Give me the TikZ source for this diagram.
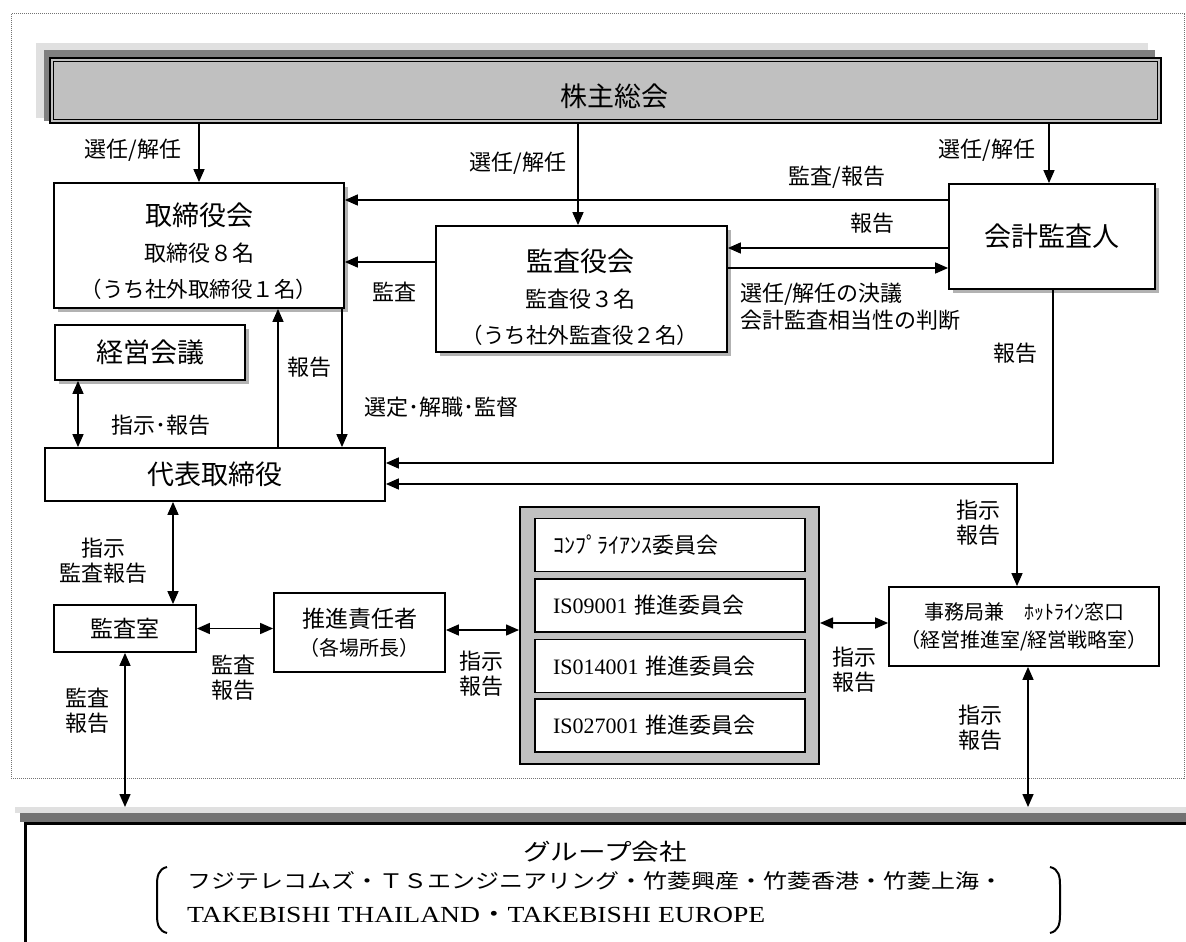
\documentclass[tikz,border=0pt]{standalone}
\usepackage{fontspec}
\usepackage{graphicx}
\setmainfont{Liberation Serif}
\newfontfamily\jp{Noto Sans CJK JP}
\usetikzlibrary{arrows.meta,shadows}
\definecolor{bargray}{HTML}{C0C0C0}
\newcommand\szT{\fontsize{27}{32}\selectfont}
\begin{document}
\begin{tikzpicture}[x=1pt,y=-1pt,
  box/.style={draw,line width=1.8pt,fill=white,inner sep=0pt,align=center},
  shbox/.style={box,drop shadow={shadow xshift=3.5pt,shadow yshift=-3.5pt,fill=black!30,opacity=1}},
  cbox/.style={draw,line width=1.8pt,fill=white,inner ysep=0pt,inner xsep=18pt,text width=234pt,align=left,minimum height=53pt,font=\jp\fontsize{22}{26}\selectfont},
  lbl/.style={font=\jp\fontsize{22}{25}\selectfont,inner sep=0pt,align=center},
  conn/.style={line width=1.5pt},
  arr/.style={conn,-{Triangle[length=13pt,width=11pt]}},
  darr/.style={conn,{Triangle[length=13pt,width=11pt]}-{Triangle[length=13pt,width=11pt]}},
]
\useasboundingbox (0,0) rectangle (1186,942);
\clip (0,0) rectangle (1186,942);
\fill[white] (0,0) rectangle (1186,942);
\draw[densely dotted,black!55,line width=1pt] (11,14) rectangle (1184,778);

% shareholders bar
\fill[black!12] (36,43) rectangle (1148,118);
\fill[black!50] (44,50) rectangle (1155,121);
\node[draw,line width=2.5pt,fill=bargray,minimum width=1111pt,minimum height=65pt,inner sep=0pt] (sh) at (605.5,90.5) {};
\draw[line width=1pt] ([shift={(5pt,-5pt)}]sh.north west) rectangle ([shift={(-5pt,5pt)}]sh.south east);
\node[font=\jp\szT,inner sep=0pt] (sht) at (614,96) {株主総会};

% boxes
\node[shbox,minimum width=290pt,minimum height=125pt] (tb) at (199,245.5) {};
\node[font=\jp\fontsize{22}{36}\selectfont,align=center,inner sep=0pt] (tbt) at (199,251) {{\fontsize{27}{36}\selectfont 取締役会}\\取締役８名\\{\fontsize{21.5}{36}\selectfont （うち社外取締役１名）}};
\node[shbox,minimum width=291pt,minimum height=126pt] (ka) at (581.5,289) {};
\node[font=\jp\fontsize{22}{36}\selectfont,align=center,inner sep=0pt] (kat) at (580,297.5) {{\fontsize{27}{36}\selectfont 監査役会}\\監査役３名\\{\fontsize{21.5}{36}\selectfont （うち社外監査役２名）}};
\node[shbox,minimum width=206pt,minimum height=105pt,font=\jp\szT] (ak) at (1052,236.5) {会計監査人};
\node[shbox,minimum width=190pt,minimum height=55pt,font=\jp\szT] (km) at (150,352.5) {経営会議};
\node[box,minimum width=340pt,minimum height=53pt,font=\jp\szT] (dt) at (215,474.5) {代表取締役};
\node[box,minimum width=142pt,minimum height=47pt,font=\jp\fontsize{23}{26}\selectfont] (ks) at (125,628.5) {監査室};
\node[box,minimum width=171pt,minimum height=79pt,font=\jp\fontsize{23}{28}\selectfont] (su) at (359.5,632.5) {推進責任者\\{\fontsize{20}{28}\selectfont （各場所長）}};
\node[draw,line width=2pt,fill=bargray,minimum width=299pt,minimum height=257pt,inner sep=0pt] (co) at (669.5,635.5) {};
\node[cbox] (c1) at (670,545) {ｺﾝﾌﾟﾗｲｱﾝｽ委員会};
\node[cbox] (c2) at (670,605.5) {{\rmfamily IS09001} 推進委員会};
\node[cbox] (c3) at (670,666) {{\rmfamily IS014001} 推進委員会};
\node[cbox] (c4) at (670,725.5) {{\rmfamily IS027001} 推進委員会};
\node[box,minimum width=270pt,minimum height=79pt,font=\jp\fontsize{20}{28}\selectfont] (jm) at (1024,626.5) {事務局兼　ﾎｯﾄﾗｲﾝ窓口\\（経営推進室/経営戦略室）};

% group companies
\fill[black!12] (15,807) rectangle (1200,813);
\fill[black!55] (20,813) rectangle (1200,822);
\node[draw,line width=3pt,fill=white,anchor=north west,minimum width=1200pt,minimum height=200pt,inner sep=0pt] (gp) at (24,822) {};
\coordinate (gtop) at (600,807);
\node[font=\jp\fontsize{23}{26}\selectfont,inner sep=0pt] (gpt) at (605,852) {\scalebox{1.2}[1]{グループ会社}};
\node[font=\jp\fontsize{20}{24}\selectfont,inner sep=0pt,anchor=west] (gp2) at (187,881) {\scalebox{1.2}[1]{フジテレコムズ・ＴＳエンジニアリング・竹菱興産・竹菱香港・竹菱上海・}};
\node[font=\rmfamily\fontsize{23}{26}\selectfont,inner sep=0pt,anchor=west] (gp3) at (187,915) {\scalebox{1.2}[1]{TAKEBISHI THAILAND{\jp ・}TAKEBISHI EUROPE}};
\draw[line width=2pt] (167,867) .. controls (158,869) and (157,877) .. (157,885) -- (157,915) .. controls (157,925) and (159,931) .. (167,933);
\draw[line width=2pt] (1050,867) .. controls (1059,869) and (1060,877) .. (1060,885) -- (1060,915) .. controls (1060,925) and (1058,931) .. (1050,933);

% connectors
\draw[arr] (tb.north |- sh.south) -- (tb.north);
\draw[arr] ([xshift=-3.5pt]ka.north |- sh.south) -- ([xshift=-3.5pt]ka.north);
\draw[arr] ([xshift=-3pt]ak.north |- sh.south) -- ([xshift=-3pt]ak.north);
\draw[arr] ([yshift=36.5pt]ak.west) -- ([yshift=36.5pt]ak.west -| tb.east);
\draw[arr] ([yshift=-11.5pt]ak.west) -- ([yshift=-11.5pt]ak.west -| ka.east);
\draw[arr] ([yshift=-31.5pt]ak.west -| ka.east) -- ([yshift=-31.5pt]ak.west);
\draw[arr] ([yshift=27pt]ka.west) -- ([yshift=27pt]ka.west -| tb.east);
\draw[darr] ([xshift=-72pt]km.south) -- ([xshift=-72pt]km.south |- dt.north);
\draw[arr] ([xshift=79pt]tb.south |- dt.north) -- ([xshift=79pt]tb.south);
\draw[arr] ([xshift=143pt]tb.south) -- ([xshift=143pt]tb.south |- dt.north);
\draw[arr] ([xshift=1pt]ak.south) |- ([yshift=11.5pt]dt.east);
\draw[darr] ([yshift=-9.5pt]dt.east) -| ([xshift=-7pt]jm.north);
\draw[darr] ([xshift=48pt]ks.north) -- ([xshift=48pt]ks.north |- dt.south);
\draw[darr] (ks.east) -- (ks.east -| su.west);
\draw[darr] ([yshift=2.5pt]su.east) -- ([yshift=2.5pt]su.east -| co.west);
\draw[darr] ([yshift=3.5pt]jm.west -| co.east) -- ([yshift=3.5pt]jm.west);
\draw[darr] (ks.south) -- (ks.south |- gtop);
\draw[darr] ([xshift=4pt]jm.south) -- ([xshift=4pt]jm.south |- gtop);

% labels
\node[lbl] (l1) at (133,150) {選任/解任};
\node[lbl] (l2) at (518,163) {選任/解任};
\node[lbl] (l3) at (987,150) {選任/解任};
\node[lbl] (l4) at (837,177) {監査/報告};
\node[lbl] (l5) at (872,223) {報告};
\node[lbl,align=left,anchor=west,font=\jp\fontsize{22}{27}\selectfont] (l6) at (740,306.5) {選任/解任の決議\\会計監査相当性の判断};
\node[lbl] (l7) at (394,292) {監査};
\node[lbl] (l8) at (309,367) {報告};
\node[lbl] (l9) at (441,407) {選定･解職･監督};
\node[lbl] (l10) at (161,425) {指示･報告};
\node[lbl] (l11) at (1015,353) {報告};
\node[lbl] (l12) at (978,522.5) {指示\\報告};
\node[lbl] (l13) at (103,560.5) {指示\\監査報告};
\node[lbl] (l14) at (233,677.5) {監査\\報告};
\node[lbl] (l15) at (481,673.5) {指示\\報告};
\node[lbl] (l16) at (854,669.5) {指示\\報告};
\node[lbl] (l17) at (87,710.5) {監査\\報告};
\node[lbl] (l18) at (980,727.5) {指示\\報告};
\end{tikzpicture}
\end{document}
